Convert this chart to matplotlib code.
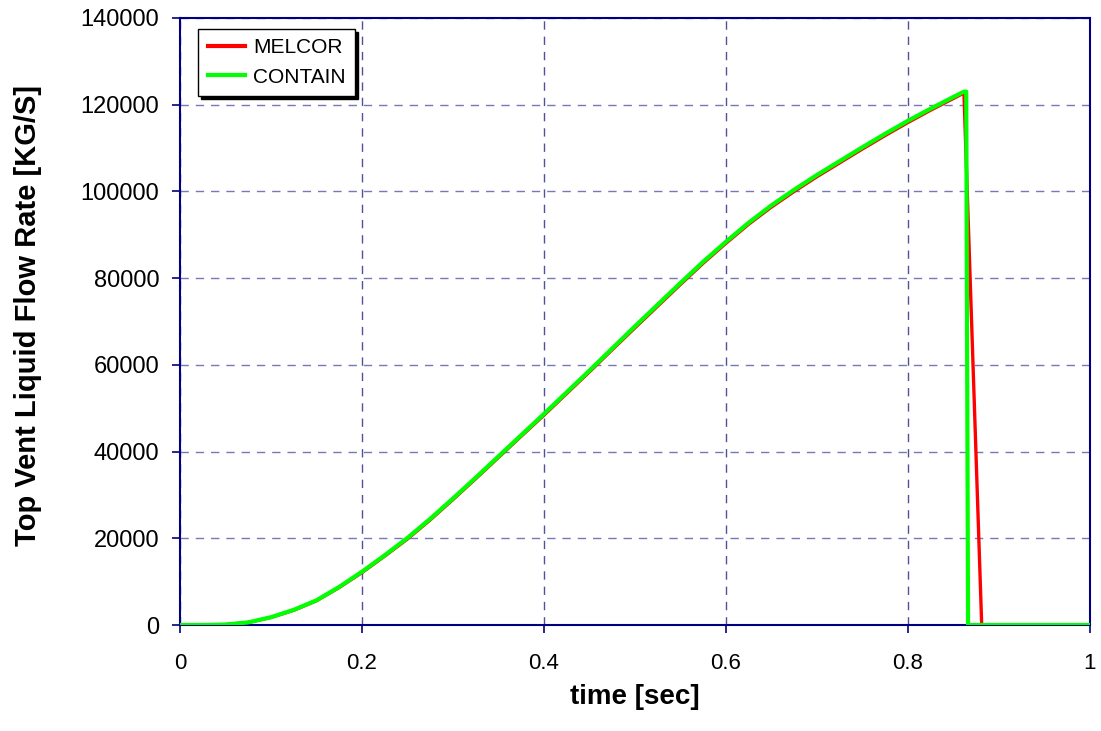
import matplotlib
matplotlib.use("Agg")
import numpy as np
from matplotlib import pyplot as plt

# time [sec] and top vent liquid flow rate [kg/s]
t_contain = [0.0, 0.025, 0.05, 0.075, 0.1, 0.125, 0.15, 0.175, 0.2, 0.225,
             0.25, 0.275, 0.3, 0.325, 0.35, 0.375, 0.4, 0.425, 0.45, 0.475,
             0.5, 0.525, 0.55, 0.575, 0.6, 0.625, 0.65, 0.675, 0.7, 0.725,
             0.75, 0.775, 0.8, 0.825, 0.85, 0.8615, 0.864, 0.866, 1.0]
q_contain = [0, 0, 100, 600, 1800, 3500, 5700, 8800, 12300, 16100,
             20100, 24500, 29200, 34000, 38900, 43800, 48700, 53700, 58700, 63800,
             68900, 73900, 78900, 83800, 88400, 92800, 96800, 100400, 103800, 107000,
             110200, 113300, 116300, 119100, 121800, 123000, 123000, 0, 0]

t_melcor = [0.0, 0.025, 0.05, 0.075, 0.1, 0.125, 0.15, 0.175, 0.2, 0.225,
            0.25, 0.275, 0.3, 0.325, 0.35, 0.375, 0.4, 0.425, 0.45, 0.475,
            0.5, 0.525, 0.55, 0.575, 0.6, 0.625, 0.65, 0.675, 0.7, 0.725,
            0.75, 0.775, 0.8, 0.825, 0.85, 0.8615, 0.881, 1.0]
q_melcor = [0, 0, 100, 600, 1750, 3400, 5600, 8650, 12100, 15900,
            19850, 24250, 28950, 33750, 38650, 43550, 48400, 53400, 58400, 63500,
            68550, 73550, 78550, 83450, 88050, 92450, 96400, 100000, 103400, 106600,
            109800, 112900, 115900, 118750, 121450, 122700, 0, 0]

navy = "#000080"
font = ["Liberation Sans", "DejaVu Sans"]

fig = plt.figure(figsize=(11.01, 7.31), dpi=100)
ax = fig.add_axes([0.1635, 0.145, 0.8265, 0.8304])

ax.plot(t_melcor, q_melcor, color="#ff0000", lw=2.4, label="MELCOR", zorder=3)
ax.plot(t_contain, q_contain, color="#00ff00", lw=3.0, label="CONTAIN", zorder=4)

ax.set_xlim(0, 1)
ax.set_ylim(0, 140000)
ax.set_xticks(np.arange(0, 1.01, 0.2))
ax.set_xticklabels(["0", "0.2", "0.4", "0.6", "0.8", "1"])
ax.set_yticks(np.arange(0, 140001, 20000))

ax.xaxis.grid(True, ls=(0, (6, 5)), color="#5050a0", lw=1.0)
ax.yaxis.grid(True, ls=(0, (6, 5)), color="#7878b8", lw=1.0)
ax.set_axisbelow(True)

for s in ax.spines.values():
    s.set_color(navy)
    s.set_linewidth(1.5)
ax.tick_params(axis="both", direction="out", length=6, width=1.2, color=navy)
ax.tick_params(axis="x", pad=14)
ax.tick_params(axis="y", pad=9)

for lab in ax.get_xticklabels():
    lab.set_family(font)
    lab.set_fontsize(16)
for lab in ax.get_yticklabels():
    lab.set_family(font)
    lab.set_fontsize(17)

ax.set_xlabel("time [sec]", family=font, fontsize=20, fontweight="bold")
ax.set_ylabel("Top Vent Liquid Flow Rate [KG/S]", family=font, fontsize=21,
              fontweight="bold")
ax.xaxis.set_label_coords(0.5, -0.097)
ax.yaxis.set_label_coords(-0.152, 0.51)

leg = ax.legend(loc="upper left", bbox_to_anchor=(0.02, 0.982), borderaxespad=0,
                fancybox=False, framealpha=1, edgecolor="black",
                prop={"family": font, "size": 15},
                handlelength=1.8, handletextpad=0.4, labelspacing=0.5,
                borderpad=0.45,
                shadow={"facecolor": "black", "edgecolor": "black", "alpha": 1})
leg.get_frame().set_linewidth(1.0)
for h in leg.get_lines():
    h.set_linewidth(3)

fig.savefig("out.png", dpi=100)
